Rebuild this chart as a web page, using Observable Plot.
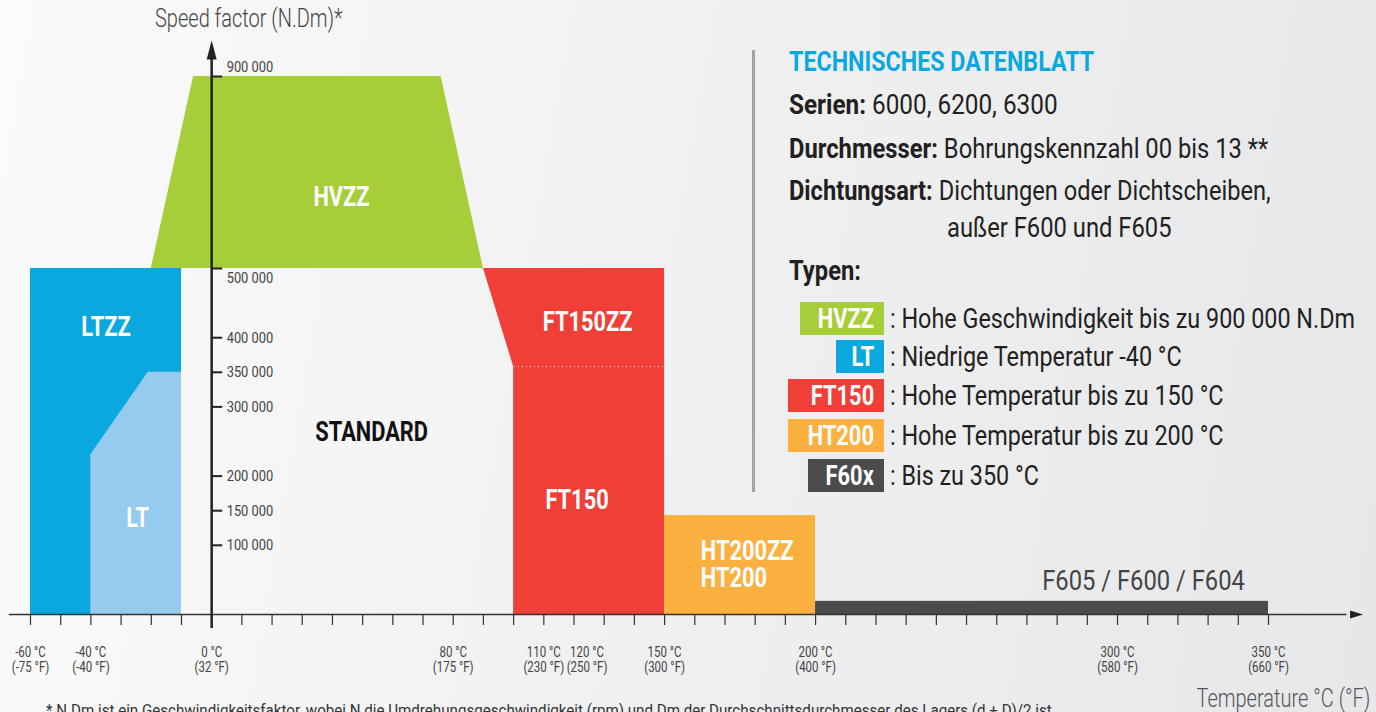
<!DOCTYPE html>
<html><head><meta charset="utf-8">
<script src="https://cdn.jsdelivr.net/npm/d3@7"></script>
<script src="https://cdn.jsdelivr.net/npm/@observablehq/plot@0.6"></script>
<style>
html,body{margin:0;padding:0;}
body{width:1376px;height:712px;overflow:hidden;background:linear-gradient(100deg,#fbfbfb 0%,#f1f1f2 45%,#e6e7e9 100%);}
#wrap{position:relative;width:1376px;height:712px;overflow:hidden;}
#wrap svg{position:absolute;left:0;top:0;}
.t{position:absolute;white-space:nowrap;line-height:1;font-family:Roboto,'Liberation Sans',sans-serif;color:#231f20;font-size:27px;transform:scaleX(0.88);transform-origin:0 50%;}
.t b{font-weight:700;}
.badge{position:absolute;height:33px;line-height:34px;box-sizing:border-box;padding-right:10px;text-align:right;color:#fff;font-weight:700;font-size:28px;font-family:Roboto,sans-serif;}
.badge span{display:inline-block;transform:scaleX(0.78);transform-origin:100% 50%;}
</style></head>
<body><div id="wrap"></div>
<script>
// ---- data ----
const tempTicks = [-60,-50,-40,-30,-20,-10,0,10,20,30,40,50,60,70,80,90,100,110,120,130,140,150,160,170,180,190,200,210,220,230,240,250,260,270,280,290,300,310,320,330,340,350];
const tempLabelValues = [-60,-40,0,80,110,150,200,300,350];
const tempLabelTexts = ["-60 °C\n(-75 °F)","-40 °C\n(-40 °F)","0 °C\n(32 °F)","80 °C\n(175 °F)","110 °C\n(230 °F)","150 °C\n(300 °F)","200 °C\n(400 °F)","300 °C\n(580 °F)","350 °C\n(660 °F)"];
const tempLabelShifted = [120];
const tempLabelShiftedTexts = ["120 °C\n(250 °F)"];
const speedTicks = [100000,150000,200000,300000,350000,400000,500000,900000];
const speedTickTexts = ["100 000","150 000","200 000","300 000","350 000","400 000","500 000","900 000"];

// regions (temperature °C, speed N.Dm)
const ltzzTemp = [-60,-10], ltzzSpeed = 500000;
const ltTemp = [-40,-21,-10], ltSpeed = [231000,350000,350000];
const hvzzSpeed = [500000,900000], hvzzTempMin = [-20,-6], hvzzTempMax = [90,76];
const ft150Speed = [0,358000,500000], ft150TempMin = [100,100,90], ft150TempMax = [150,150,150];
const ft150Split = 358000;
const ht200Temp = [150,200], ht200Speed = 143000;
const f60xTemp = [200,350], f60xSpeed = 19000;

const regionNames = ["HVZZ","LTZZ","LT","FT150ZZ","FT150"];
const regionLabelTemp = [43,-35,-24.5,124.5,121];
const regionLabelSpeed = [648000,415000,140000,422000,166000];

const colors = {HVZZ:"#a6ce39", LTZZ:"#0ba8e0", LT:"#94cbee", FT150:"#ef3f37", HT200:"#fbb040", F60x:"#4b4b4d"};
const FONT = "Roboto, 'Liberation Sans', sans-serif";

const hvzz = hvzzSpeed.map((s,i)=>({s, a:hvzzTempMin[i], b:hvzzTempMax[i]}));
const ft150 = ft150Speed.map((s,i)=>({s, a:ft150TempMin[i], b:ft150TempMax[i]}));
const lt = ltTemp.map((t,i)=>({t, s:ltSpeed[i]}));
const regionLabels = regionNames.map((n,i)=>({n, t:regionLabelTemp[i], s:regionLabelSpeed[i]}));

const arrowUp = {draw(ctx){ctx.moveTo(0,-10);ctx.lineTo(5,9);ctx.lineTo(-5,9);ctx.closePath();}};
const arrowRight = {draw(ctx){ctx.moveTo(7,0);ctx.lineTo(-6,4);ctx.lineTo(-6,-4);ctx.closePath();}};

const chart = Plot.plot({
  width: 1376, height: 712,
  style: {background:"transparent", overflow:"visible"},
  x: {type:"linear", domain:[-60,350], range:[30,1268], axis:null},
  y: {type:"linear", domain:[0,500000,900000], range:[614,268,76], axis:null},
  marks: [
    Plot.rect([0], {x1:ltzzTemp[0], x2:ltzzTemp[1], y1:0, y2:ltzzSpeed, fill:colors.LTZZ}),
    Plot.areaY(lt, {x:"t", y1:0, y2:"s", fill:colors.LT}),
    Plot.areaX(hvzz, {y:"s", x1:"a", x2:"b", fill:colors.HVZZ}),
    Plot.areaX(ft150, {y:"s", x1:"a", x2:"b", fill:colors.FT150}),
    Plot.rect([0], {x1:ht200Temp[0], x2:ht200Temp[1], y1:0, y2:ht200Speed, fill:colors.HT200}),
    Plot.rect([0], {x1:f60xTemp[0], x2:f60xTemp[1], y1:0, y2:f60xSpeed, fill:colors.F60x}),
    Plot.ruleY([ft150Split], {x1:95, x2:154, stroke:"#fff", strokeWidth:1, strokeDasharray:"1,3", strokeOpacity:0.9}),
    // x axis
    Plot.ruleY([0], {x1:-67, x2:376, stroke:"#333", strokeWidth:1.5}),
    Plot.dot([0], {x:379, y:0, symbol:arrowRight, fill:"#222", stroke:null}),
    Plot.ruleX(tempTicks, {x:d=>d, y1:0, y2:0, insetTop:0, insetBottom:-11, stroke:"#333", strokeWidth:1.2}),
    Plot.text(tempLabelValues, {x:d=>d, y:0, text:(d,i)=>tempLabelTexts[i], dy:45, lineAnchor:"middle", lineHeight:1.12, fontSize:14, fontFamily:FONT, fill:"#444"}),
    Plot.text(tempLabelShifted, {x:d=>d, y:0, text:(d,i)=>tempLabelShiftedTexts[i], dx:13, dy:45, lineAnchor:"middle", lineHeight:1.12, fontSize:14, fontFamily:FONT, fill:"#444"}),
    // y axis
    Plot.ruleX([0], {y1:0, y2:900000, insetTop:14, insetBottom:22, stroke:"#222", strokeWidth:2.5}),
    Plot.dot([0], {x:0, y:900000, dy:-26, symbol:arrowUp, fill:"#222", stroke:null}),
    Plot.ruleY(speedTicks, {y:d=>d, x1:0, x2:0, insetLeft:0, insetRight:-11, stroke:"#222", strokeWidth:2}),
    Plot.text(speedTicks, {filter:d=>d<500000, x:0, y:d=>d, text:(d)=>speedTickTexts[speedTicks.indexOf(d)], dx:15, textAnchor:"start", fontSize:15.5, fontFamily:FONT, fill:"#444"}),
    Plot.text([500000], {x:0, y:d=>d, text:["500 000"], dx:15, dy:10, textAnchor:"start", fontSize:15.5, fontFamily:FONT, fill:"#444"}),
    Plot.text([900000], {x:0, y:d=>d, text:["900 000"], dx:15, dy:-9, textAnchor:"start", fontSize:15.5, fontFamily:FONT, fill:"#444"}),
    // region labels
    Plot.text(regionLabels, {x:"t", y:"s", text:"n", fill:"#fff", fontWeight:"bold", fontSize:28, fontFamily:FONT}),
    Plot.text([0], {x:53, y:264000, text:["STANDARD"], fill:"#111", fontWeight:"bold", fontSize:28, fontFamily:FONT}),
    Plot.text([0], {x:162, y:71500, text:["HT200ZZ\nHT200"], fill:"#fff", fontWeight:"bold", fontSize:28, lineHeight:0.96, textAnchor:"start", fontFamily:FONT}),
    Plot.text([0], {x:308.6, y:47700, text:["F605 / F600 / F604"], fill:"#444", fontSize:27, fontFamily:FONT})
  ]
});
// horizontal compression to mimic the condensed typeface
const squeeze = {"14":0.82, "15.5":0.83, "28":0.78, "27":0.88};
d3.select(chart).selectAll("text").each(function(){
  const g = this.closest("g[font-size]");
  const sx = g ? squeeze[g.getAttribute("font-size")] : null;
  if (!sx) return;
  const tr = this.getAttribute("transform") || "";
  this.setAttribute("transform", tr + ` scale(${sx},1)`);
});
const wrap = document.getElementById("wrap");
wrap.appendChild(chart);

function add(html, css, cls="t"){const d=document.createElement("div");d.className=cls;d.innerHTML=html;Object.assign(d.style,css);wrap.appendChild(d);return d;}
add("Speed factor (N.Dm)*",{left:"155px",top:"6px",fontSize:"25px",fontWeight:"300",color:"#444",transform:"scaleX(0.8)"});
add("Temperature °C (°F)",{right:"6px",top:"686px",fontSize:"25px",fontWeight:"300",color:"#555",transform:"scaleX(0.8)",transformOrigin:"100% 50%"});
add("* N.Dm ist ein Geschwindigkeitsfaktor, wobei N die Umdrehungsgeschwindigkeit (rpm) und Dm der Durchschnittsdurchmesser des Lagers (d + D)/2 ist.",{left:"46px",top:"703px",fontSize:"16px",color:"#333",transform:"scaleX(0.945)"});
// panel
const div = document.createElement("div");Object.assign(div.style,{position:"absolute",left:"752px",top:"50px",width:"3px",height:"442px",background:"#a3a3a5"});wrap.appendChild(div);
add("TECHNISCHES DATENBLATT",{left:"789px",top:"48px",fontSize:"28px",fontWeight:"700",color:"#0ba8e0",transform:"scaleX(0.83)"});
add("<b>Serien:</b> 6000, 6200, 6300",{left:"789px",top:"92px",transform:"scaleX(0.9)"});
add("<b>Durchmesser:</b> Bohrungskennzahl 00 bis 13 **",{left:"789px",top:"136px"});
add("<b>Dichtungsart:</b> Dichtungen oder Dichtscheiben,",{left:"789px",top:"178px",transform:"scaleX(0.875)"});
add("außer F600 und F605",{left:"947px",top:"215px"});
add("<b>Typen:</b>",{left:"789px",top:"258px"});
const legendNames = ["HVZZ","LT","FT150","HT200","F60x"];
const legendColors = [colors.HVZZ, colors.LTZZ, colors.FT150, colors.HT200, colors.F60x];
const legendTexts = [": Hohe Geschwindigkeit bis zu 900 000 N.Dm",": Niedrige Temperatur -40 °C",": Hohe Temperatur bis zu 150 °C",": Hohe Temperatur bis zu 200 °C",": Bis zu 350 °C"];
const legendTop = [302,340,379,419,459];
const badgeLeft = [800,836,788,788,808];
legendNames.forEach((n,i)=>{
  add(`<span>${n}</span>`,{top:legendTop[i]+"px",left:badgeLeft[i]+"px",width:(884-badgeLeft[i])+"px",background:legendColors[i]},"badge");
  add(legendTexts[i],{left:"890px",top:(legendTop[i]+3.5)+"px",transform:"scaleX(0.865)"});
});
</script></body></html>
